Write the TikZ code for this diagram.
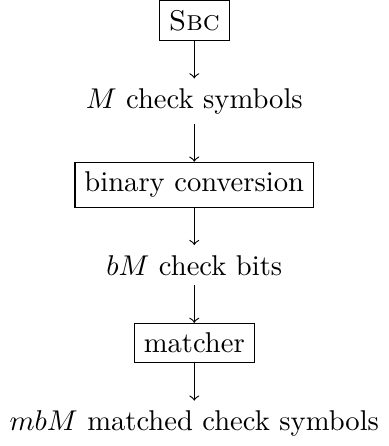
\documentclass[tikz,border=0pt]{standalone}
\usetikzlibrary{positioning}
\begin{document}
\begin{tikzpicture}[node distance=4.6mm, blk/.style={draw}]
    \node[blk] (sbc) {\textsc{Sbc}};
    \node[below=of sbc] (sym) {$M$ check symbols};
    \node[blk, below=of sym] (conv) {binary conversion};
    \node[below=of conv] (bits) {$bM$ check bits};
    \node[blk, below=of bits] (match) {matcher};
    \node[below=of match] (out) {$mbM$ matched check symbols};
    \draw[->] (sbc)--(sym);
    \draw[->] (sym)--(conv);
    \draw[->] (conv)--(bits);
    \draw[->] (bits)--(match);
    \draw[->] (match)--(out);
\end{tikzpicture}
\end{document}
